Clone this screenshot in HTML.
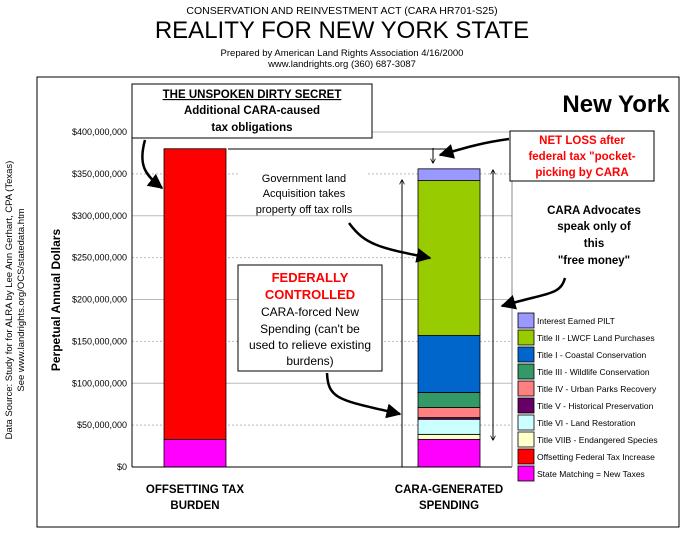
<!DOCTYPE html>
<html><head><meta charset="utf-8"><style>
body{margin:0;background:#fff;}
svg text{font-family:"Liberation Sans",Arial,sans-serif;}
</style></head><body>
<svg id="chart" width="684" height="532" viewBox="0 0 684 532" xmlns="http://www.w3.org/2000/svg">
<defs><marker id="ah" viewBox="0 0 10 10" refX="9" refY="5" markerWidth="6" markerHeight="6" orient="auto"><path d="M0,0L10,5L0,10z" fill="#000"/></marker>
<marker id="al" viewBox="0 0 10 10" refX="9" refY="5" markerWidth="5" markerHeight="5" orient="auto"><path d="M0,0L10,5L0,10" fill="none" stroke="#000" stroke-width="1.5"/></marker></defs>
<text x="342" y="14" text-anchor="middle" font-size="10.5">CONSERVATION AND REINVESTMENT ACT (CARA HR701-S25)</text>
<text x="342" y="38" text-anchor="middle" font-size="24">REALITY FOR NEW YORK STATE</text>
<text x="342" y="56" text-anchor="middle" font-size="9.5">Prepared by American Land Rights Association  4/16/2000</text>
<text x="342" y="67" text-anchor="middle" font-size="9.5">www.landrights.org  (360) 687-3087</text>
<g transform="translate(12,300) rotate(-90)"><text x="0" y="0" text-anchor="middle" font-size="9.5">Data Source:  Study for for ALRA by Lee Ann Gerhart, CPA (Texas)</text></g>
<g transform="translate(24,300) rotate(-90)"><text x="0" y="0" text-anchor="middle" font-size="9.5">See www.landrights.org/OCS/statedata.htm</text></g>
<rect x="37" y="77" width="642" height="450" fill="#fff" stroke="#000"/>
<g id="grid"></g>
<g id="bars"></g>
<line x1="132" y1="132" x2="132" y2="467" stroke="#000"/>
<line x1="132" y1="467" x2="512" y2="467" stroke="#000"/>
<line x1="512" y1="132" x2="512" y2="467" stroke="#888"/>
<g transform="translate(60,300) rotate(-90)"><text x="0" y="0" text-anchor="middle" font-size="12" font-weight="bold">Perpetual Annual Dollars</text></g>
<g id="cats"></g>
<text x="616" y="112" text-anchor="middle" font-size="24" font-weight="bold">New York</text>
<line x1="228" y1="149" x2="450" y2="149" stroke="#000"/>
<rect x="132" y="84" width="240" height="54" fill="#fff" stroke="#000"/>
<text x="252" y="98" text-anchor="middle" font-size="11.5" font-weight="bold" text-decoration="underline">THE UNSPOKEN DIRTY SECRET</text>
<text x="252" y="114" text-anchor="middle" font-size="11.5" font-weight="bold">Additional CARA-caused</text>
<text x="252" y="131" text-anchor="middle" font-size="11.5" font-weight="bold">tax obligations</text>
<path d="M145,140 C138,165 145,175 162,188" fill="none" stroke="#000" stroke-width="2.5" marker-end="url(#ah)"/>
<rect x="239" y="165" width="129" height="50" fill="#fff"/>
<text x="304" y="182" text-anchor="middle" font-size="11">Government land</text>
<text x="304" y="197" text-anchor="middle" font-size="11">Acquisition takes</text>
<text x="304" y="213" text-anchor="middle" font-size="11">property off tax rolls</text>
<path d="M349,223 C365,245 380,248 430,258" fill="none" stroke="#000" stroke-width="2.5" marker-end="url(#ah)"/>
<rect x="238" y="265" width="144" height="106" fill="#fff" stroke="#000"/>
<text x="310" y="282" text-anchor="middle" font-size="13" font-weight="bold" fill="#f00">FEDERALLY</text>
<text x="310" y="299" text-anchor="middle" font-size="13" font-weight="bold" fill="#f00">CONTROLLED</text>
<text x="310" y="316" text-anchor="middle" font-size="12">CARA-forced New</text>
<text x="310" y="333" text-anchor="middle" font-size="12">Spending (can't be</text>
<text x="310" y="349" text-anchor="middle" font-size="12">used to relieve existing</text>
<text x="310" y="365" text-anchor="middle" font-size="12">burdens)</text>
<path d="M327,373 C328,400 340,400 400,414" fill="none" stroke="#000" stroke-width="2.5" marker-end="url(#ah)"/>
<rect x="510" y="131" width="144" height="50" fill="#fff" stroke="#000"/>
<text x="582" y="144" text-anchor="middle" font-size="11.5" font-weight="bold" fill="#f00">NET LOSS after</text>
<text x="582" y="160" text-anchor="middle" font-size="11.5" font-weight="bold" fill="#f00">federal tax "pocket-</text>
<text x="582" y="176" text-anchor="middle" font-size="11.5" font-weight="bold" fill="#f00">picking by CARA</text>
<path d="M509,139 C480,143 465,148 440,155" fill="none" stroke="#000" stroke-width="2.5" marker-end="url(#ah)"/>
<line x1="433" y1="148" x2="433" y2="163" stroke="#000" marker-end="url(#al)"/>
<text x="594" y="214" text-anchor="middle" font-size="11.5" font-weight="bold">CARA Advocates</text>
<text x="594" y="230" text-anchor="middle" font-size="11.5" font-weight="bold">speak only of</text>
<text x="594" y="247" text-anchor="middle" font-size="11.5" font-weight="bold">this</text>
<text x="594" y="264" text-anchor="middle" font-size="11.5" font-weight="bold">"free money"</text>
<path d="M565,278 C560,295 550,292 502,306" fill="none" stroke="#000" stroke-width="2.5" marker-end="url(#ah)"/>
<line x1="402" y1="467" x2="402" y2="180" stroke="#000" marker-end="url(#al)"/>
<line x1="493" y1="300" x2="493" y2="170" stroke="#000" marker-end="url(#al)"/>
<line x1="493" y1="300" x2="493" y2="440" stroke="#000" marker-end="url(#al)"/>
<g id="legend"></g>
</svg>
<script>
const ticks = [0,50,100,150,200,250,300,350,400];
const tickLabels = ["$0","$50,000,000","$100,000,000","$150,000,000","$200,000,000","$250,000,000","$300,000,000","$350,000,000","$400,000,000"];
const categories = ["OFFSETTING TAX|BURDEN","CARA-GENERATED|SPENDING"];
const seriesNames = ["State Matching = New Taxes","Offsetting Federal Tax Increase","Title VIIB - Endangered Species","Title VI - Land Restoration","Title V - Historical Preservation","Title IV - Urban Parks Recovery","Title III - Wildlife Conservation","Title I - Coastal Conservation","Title II - LWCF Land Purchases","Interest Earned PILT"];
const seriesColors = ["#ff00ff","#ff0000","#ffffcc","#ccffff","#660066","#ff8080","#339966","#0066cc","#99cc00","#9999ff"];
const stateMatching = [33,33];
const offsetFederal = [347,0];
const titleVIIB = [0,6];
const titleVI = [0,18];
const titleV = [0,2];
const titleIV = [0,12];
const titleIII = [0,18];
const titleI = [0,68];
const titleII = [0,185];
const pilt = [0,14];
const series = [stateMatching,offsetFederal,titleVIIB,titleVI,titleV,titleIV,titleIII,titleI,titleII,pilt];
const NS="http://www.w3.org/2000/svg";
const y = v => 467 - v*335/400;
const barX = i => [164,418][i];
const barW = 62;
function mk(t,a,p){const e=document.createElementNS(NS,t);for(const k in a)e.setAttribute(k,a[k]);p.appendChild(e);return e;}
const grid=document.getElementById('grid');
ticks.forEach((t,i)=>{
  if(t>0){const l=mk('line',{x1:132,x2:512,y1:y(t),y2:y(t),stroke:'#bbb','stroke-dasharray':(t%100?'2,2':'')},grid);
  
  }
  const tx=mk('text',{x:127,y:y(t)+3,'text-anchor':'end','font-size':'9'},grid);
  tx.textContent=tickLabels[i];
  
  
});
const bars=document.getElementById('bars');
categories.forEach((c,i)=>{
  let acc=0;
  series.forEach((s,j)=>{
    const v=s[i]; if(!v) return;
    const r=mk('rect',{x:barX(i),width:barW,y:y(acc+v),height:y(acc)-y(acc+v),fill:seriesColors[j],stroke:'#000','stroke-width':0.8},bars);
    
    
    acc+=v;
  });
});
const cats=document.getElementById('cats');
categories.forEach((c,i)=>{
  c.split('|').forEach((ln,k)=>{
    const t=mk('text',{x:barX(i)+barW/2,y:493+k*16,'text-anchor':'middle','font-size':'11.5','font-weight':'bold'},cats);
    t.textContent=ln;
    
    
  });
});
const lg=document.getElementById('legend');
for(let k=0;k<seriesNames.length;k++){
  const j=seriesNames.length-1-k;
  const yy=313+k*17;
  const r=mk('rect',{x:518,y:yy,width:16,height:15,fill:seriesColors[j],stroke:'#000','stroke-width':0.8},lg);
  
  
  const t=mk('text',{x:537,y:yy+11,'font-size':'8.5'},lg);
  t.textContent=seriesNames[j];
  
  
}
</script>
</body></html>
